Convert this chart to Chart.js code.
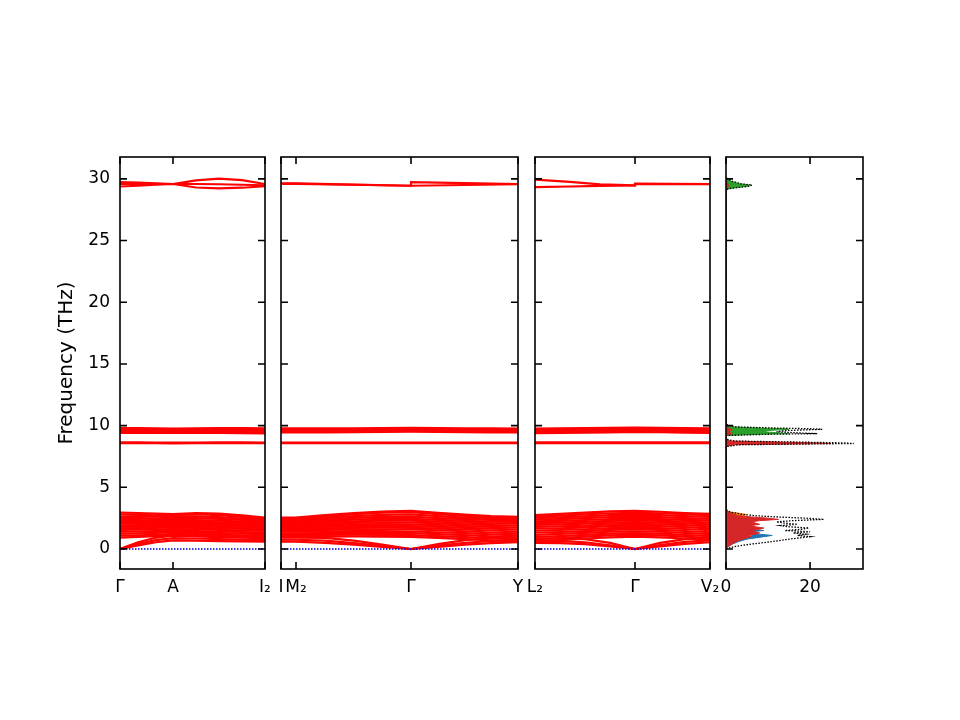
<!DOCTYPE html>
<html>
<head>
<meta charset="utf-8">
<script src="https://cdn.jsdelivr.net/npm/chart.js@4.4.0/dist/chart.umd.min.js"></script>
<style>
  body { margin: 0; background: #fff; }
  #wrap { position: relative; width: 960px; height: 720px; }
  #wrap canvas { position: absolute; left: 0; top: 0; }
</style>
</head>
<body>
<div id="wrap">
  <canvas id="p1" width="960" height="720"></canvas>
  <canvas id="p2" width="960" height="720"></canvas>
  <canvas id="p3" width="960" height="720"></canvas>
  <canvas id="p4" width="960" height="720"></canvas>
</div>
<script>
// frequency axis shared by all panels (THz)
const freqMin = -1.62;
const freqMax = 31.77;
const freqTicks = [0, 5, 10, 15, 20, 25, 30];

// panel 1: Γ - A - I2
const k1 = [0, 0.18, 0.36, 0.53, 0.76, 0.99, 1.22, 1.45];
const k1Sym = [0, 0.53, 1.45];
const k1Labels = ['Γ', 'A', 'I₂'];
const bands1 = [
  [0, 0.30, 0.55, 0.70, 0.68, 0.64, 0.62, 0.60],
  [0, 0.42, 0.72, 0.88, 0.85, 0.80, 0.76, 0.72],
  [0, 0.55, 0.92, 1.08, 1.02, 0.96, 0.92, 0.88],
  [0.92, 0.98, 1.05, 1.12, 1.08, 1.02, 0.98, 0.95],
  [1.08, 1.10, 1.15, 1.22, 1.20, 1.15, 1.10, 1.06],
  [1.25, 1.26, 1.30, 1.36, 1.33, 1.28, 1.24, 1.20],
  [1.40, 1.42, 1.45, 1.48, 1.46, 1.42, 1.38, 1.33],
  [1.55, 1.56, 1.58, 1.62, 1.60, 1.55, 1.50, 1.46],
  [1.68, 1.70, 1.72, 1.75, 1.72, 1.68, 1.63, 1.58],
  [1.80, 1.82, 1.85, 1.88, 1.85, 1.80, 1.75, 1.70],
  [1.92, 1.94, 1.97, 2.00, 1.98, 1.93, 1.87, 1.82],
  [2.05, 2.07, 2.10, 2.12, 2.10, 2.05, 1.98, 1.93],
  [2.18, 2.20, 2.22, 2.25, 2.22, 2.17, 2.10, 2.04],
  [2.30, 2.32, 2.35, 2.38, 2.35, 2.30, 2.22, 2.15],
  [2.44, 2.45, 2.48, 2.52, 2.50, 2.44, 2.35, 2.26],
  [2.58, 2.60, 2.62, 2.66, 2.65, 2.58, 2.47, 2.36],
  [2.78, 2.76, 2.72, 2.78, 2.82, 2.74, 2.60, 2.46],
  [2.95, 2.92, 2.86, 2.82, 2.92, 2.86, 2.72, 2.55],
  [9.80, 9.80, 9.78, 9.76, 9.78, 9.80, 9.79, 9.78],
  [9.72, 9.72, 9.70, 9.70, 9.72, 9.73, 9.72, 9.70],
  [9.62, 9.60, 9.60, 9.62, 9.64, 9.63, 9.60, 9.58],
  [9.50, 9.50, 9.52, 9.55, 9.53, 9.50, 9.48, 9.46],
  [9.40, 9.40, 9.42, 9.44, 9.42, 9.40, 9.38, 9.36],
  [8.64, 8.64, 8.63, 8.62, 8.63, 8.64, 8.64, 8.63],
  [8.58, 8.58, 8.57, 8.56, 8.57, 8.58, 8.58, 8.57],
  [29.74, 29.70, 29.64, 29.58, 29.88, 30.02, 29.90, 29.58],
  [29.58, 29.58, 29.58, 29.58, 29.30, 29.22, 29.28, 29.40],
  [29.38, 29.44, 29.52, 29.58, 29.58, 29.56, 29.52, 29.48]
];

// panel 2: I - M2 - Γ - Y
const k2 = [0, 0.15, 0.44, 0.73, 1.01, 1.30, 1.57, 1.84, 2.10, 2.37];
const k2Sym = [0, 0.15, 1.30, 2.37];
const k2Labels = ['I', 'M₂', 'Γ', 'Y'];
const bands2 = [
  [0.60, 0.60, 0.50, 0.35, 0.18, 0, 0.18, 0.35, 0.48, 0.55],
  [0.75, 0.75, 0.68, 0.48, 0.25, 0, 0.28, 0.50, 0.65, 0.72],
  [0.92, 0.92, 0.90, 0.68, 0.36, 0, 0.40, 0.72, 0.88, 0.92],
  [0.98, 0.98, 1.00, 1.02, 1.00, 0.98, 0.90, 0.80, 0.70, 0.62],
  [1.12, 1.12, 1.14, 1.16, 1.15, 1.12, 1.05, 0.96, 0.86, 0.78],
  [1.26, 1.26, 1.28, 1.30, 1.30, 1.28, 1.20, 1.12, 1.02, 0.95],
  [1.40, 1.40, 1.42, 1.45, 1.45, 1.42, 1.36, 1.28, 1.18, 1.10],
  [1.53, 1.53, 1.55, 1.58, 1.60, 1.58, 1.52, 1.44, 1.34, 1.26],
  [1.66, 1.66, 1.68, 1.72, 1.74, 1.72, 1.66, 1.58, 1.50, 1.42],
  [1.78, 1.78, 1.80, 1.85, 1.88, 1.86, 1.80, 1.72, 1.65, 1.58],
  [1.90, 1.90, 1.93, 1.98, 2.02, 2.00, 1.94, 1.86, 1.80, 1.74],
  [2.02, 2.02, 2.06, 2.12, 2.16, 2.15, 2.08, 2.00, 1.94, 1.90],
  [2.14, 2.14, 2.18, 2.25, 2.30, 2.30, 2.22, 2.14, 2.08, 2.05],
  [2.25, 2.25, 2.30, 2.38, 2.45, 2.45, 2.36, 2.28, 2.22, 2.20],
  [2.36, 2.36, 2.42, 2.52, 2.60, 2.62, 2.50, 2.42, 2.36, 2.34],
  [2.45, 2.45, 2.54, 2.66, 2.76, 2.80, 2.66, 2.55, 2.48, 2.46],
  [2.50, 2.50, 2.65, 2.82, 2.94, 2.98, 2.82, 2.68, 2.58, 2.54],
  [2.55, 2.55, 2.74, 2.92, 3.04, 3.10, 2.94, 2.78, 2.66, 2.60],
  [9.78, 9.78, 9.77, 9.78, 9.80, 9.82, 9.80, 9.78, 9.77, 9.76],
  [9.72, 9.72, 9.71, 9.72, 9.74, 9.76, 9.74, 9.72, 9.71, 9.70],
  [9.64, 9.64, 9.63, 9.64, 9.66, 9.68, 9.66, 9.64, 9.63, 9.62],
  [9.55, 9.55, 9.55, 9.56, 9.58, 9.60, 9.58, 9.56, 9.55, 9.54],
  [9.45, 9.45, 9.46, 9.48, 9.50, 9.52, 9.50, 9.48, 9.46, 9.45],
  [8.63, 8.63, 8.63, 8.63, 8.63, 8.63, 8.63, 8.63, 8.63, 8.63],
  [8.58, 8.58, 8.58, 8.58, 8.58, 8.58, 8.58, 8.58, 8.58, 8.58]
];
// top bands jump at Γ, so they get their own k list with Γ twice
const k2High = [0, 0.15, 0.73, 1.30, 1.30, 1.84, 2.37];
const bands2High = [
  [29.64, 29.63, 29.53, 29.44, 29.44, 29.50, 29.56],
  [29.60, 29.60, 29.52, 29.44, 29.73, 29.66, 29.58]
];

// panel 3: L2 - Γ - V2
const k3 = [0, 0.25, 0.50, 0.75, 1.00, 1.25, 1.50, 1.75];
const k3Sym = [0, 1.00, 1.75];
const k3Labels = ['L₂', 'Γ', 'V₂'];
const bands3 = [
  [0.50, 0.48, 0.40, 0.22, 0, 0.22, 0.42, 0.55],
  [0.66, 0.64, 0.55, 0.30, 0, 0.32, 0.58, 0.70],
  [0.85, 0.84, 0.80, 0.50, 0, 0.50, 0.80, 0.88],
  [0.62, 0.72, 0.85, 0.95, 1.00, 0.95, 0.85, 0.72],
  [0.80, 0.88, 1.00, 1.10, 1.14, 1.10, 1.00, 0.88],
  [0.98, 1.05, 1.15, 1.25, 1.28, 1.25, 1.15, 1.04],
  [1.15, 1.22, 1.30, 1.40, 1.42, 1.40, 1.30, 1.20],
  [1.32, 1.38, 1.45, 1.55, 1.58, 1.55, 1.46, 1.36],
  [1.48, 1.54, 1.60, 1.70, 1.73, 1.70, 1.62, 1.52],
  [1.64, 1.68, 1.75, 1.85, 1.88, 1.85, 1.78, 1.68],
  [1.80, 1.84, 1.90, 2.00, 2.03, 2.00, 1.94, 1.84],
  [1.95, 2.00, 2.05, 2.14, 2.18, 2.14, 2.08, 2.00],
  [2.10, 2.14, 2.20, 2.28, 2.32, 2.28, 2.22, 2.15],
  [2.24, 2.28, 2.35, 2.43, 2.47, 2.43, 2.36, 2.30],
  [2.38, 2.42, 2.50, 2.58, 2.62, 2.58, 2.50, 2.45],
  [2.50, 2.56, 2.65, 2.74, 2.78, 2.74, 2.66, 2.60],
  [2.62, 2.70, 2.80, 2.90, 2.94, 2.90, 2.82, 2.74],
  [2.75, 2.85, 2.95, 3.05, 3.10, 3.02, 2.92, 2.85],
  [9.76, 9.78, 9.80, 9.82, 9.84, 9.82, 9.80, 9.78],
  [9.70, 9.71, 9.72, 9.74, 9.76, 9.74, 9.72, 9.70],
  [9.62, 9.62, 9.63, 9.65, 9.68, 9.66, 9.64, 9.62],
  [9.50, 9.51, 9.53, 9.56, 9.58, 9.56, 9.54, 9.52],
  [9.38, 9.40, 9.43, 9.46, 9.50, 9.47, 9.44, 9.42],
  [8.64, 8.64, 8.64, 8.64, 8.64, 8.64, 8.64, 8.64],
  [8.58, 8.58, 8.58, 8.58, 8.58, 8.58, 8.58, 8.58]
];
const k3High = [0, 0.35, 0.65, 1.00, 1.00, 1.75];
const bands3High = [
  [29.93, 29.75, 29.55, 29.48, 29.62, 29.58],
  [29.33, 29.38, 29.43, 29.46, 29.58, 29.56]
];

// panel 4: phonon DOS (total + projected)
const dosMax = 32.6;
const dosTicks = [0, 20];
const dosLabels = ['0', '20'];
const dosFreq = [
  0.0, 0.2, 0.4, 0.6, 0.8, 1.0, 1.1, 1.2, 1.3, 1.4, 1.5, 1.6, 1.7, 1.8, 1.9, 2.0, 2.1, 2.2, 2.3, 2.4, 2.5, 2.6, 2.7, 2.8, 2.9, 3.0, 3.1, 3.3,
  8.3, 8.45, 8.55, 8.6, 8.65, 8.75, 8.9, 9.2, 9.3, 9.35, 9.4, 9.5, 9.6, 9.7, 9.75, 9.8, 9.9, 10.1,
  29.0, 29.2, 29.3, 29.4, 29.5, 29.6, 29.7, 29.8, 29.9, 30.0, 30.1
];
const dosTotal = [
  0, 2, 6, 11, 15, 20, 17, 19, 16, 20, 14, 18, 19.7, 15, 13, 17, 14, 12, 16, 23.3, 19, 12, 7, 4, 2.5, 1, 0.3, 0,
  0, 3, 30.4, 28, 20, 2, 0, 0, 10, 21.7, 18, 12, 14, 22.9, 20, 12, 2, 0,
  0, 0.5, 3, 5.5, 6.2, 3.5, 2.5, 1.5, 1, 0.5, 0
];
const dosBlue = [
  0, 0.5, 1.5, 3, 5, 9, 11, 8, 5, 6, 9, 5, 4, 3, 3, 2.5, 2, 3, 3, 4, 3, 2.5, 3, 4, 2, 0.5, 0, 0,
  0, 0.3, 0.8, 0.8, 0.5, 0, 0, 0, 0.3, 0.5, 0.4, 0.2, 0.2, 0.3, 0.3, 0.2, 0, 0,
  0, 0, 0, 0, 0, 0, 0, 0, 0, 0, 0
];
const dosOrange = [
  0, 0.3, 1, 2, 3.5, 5, 6, 5.5, 4, 3.5, 4, 3, 4.5, 5, 6, 6.5, 5, 4, 3, 3.5, 3, 2.5, 4, 5, 3, 1, 0.2, 0,
  0, 0.4, 1.2, 1.2, 0.8, 0, 0, 0, 0.3, 0.5, 0.4, 0.3, 0.3, 0.6, 0.5, 0.3, 0, 0,
  0, 0, 0, 0, 0, 0, 0, 0, 0, 0, 0
];
const dosGreen = [
  0, 0, 0, 0, 0.3, 0.5, 0.5, 0.5, 0.8, 1, 1.2, 0.8, 0.5, 0.5, 0.5, 0.4, 0.3, 0.3, 0.3, 0.5, 0.3, 0.2, 0.2, 0.2, 0.1, 0, 0, 0,
  0, 0, 0.5, 0.5, 0.5, 0, 0, 0, 8, 15, 13, 9, 10, 15, 14, 8, 1, 0,
  0, 0.4, 2.6, 5, 5.6, 3.2, 2.2, 1.3, 0.9, 0.4, 0
];
const dosRed = [
  0, 0.5, 1.5, 2.5, 4, 6, 5, 7, 8, 7, 6, 8, 9, 7, 6, 8, 7, 6, 8, 12.5, 10, 6, 3, 2, 1.5, 0.5, 0, 0,
  0, 2, 25, 22, 15, 1, 0, 0, 1, 1.5, 1, 0.8, 1, 1.5, 1, 0.5, 0, 0,
  0, 0, 0.3, 0.5, 0.6, 0.4, 0.3, 0.2, 0.1, 0, 0
];

const FONT = 'DejaVu Sans';
const TOP = 157, BOTTOM = 569, XAXIS_H = 40;

// frame + inward ticks on all four sides, like matplotlib
const framePlugin = {
  id: 'frame',
  afterDraw(chart, args, o) {
    const {ctx, chartArea: a, scales} = chart;
    ctx.save();
    ctx.strokeStyle = '#000';
    ctx.lineWidth = 1.6;
    ctx.beginPath();
    o.xTicks.forEach(v => {
      const px = scales.x.getPixelForValue(v);
      ctx.moveTo(px, a.bottom); ctx.lineTo(px, a.bottom - 7);
      ctx.moveTo(px, a.top); ctx.lineTo(px, a.top + 7);
    });
    freqTicks.forEach(v => {
      const py = scales.y.getPixelForValue(v);
      ctx.moveTo(a.left, py); ctx.lineTo(a.left + 7, py);
      ctx.moveTo(a.right, py); ctx.lineTo(a.right - 7, py);
    });
    ctx.stroke();
    ctx.strokeRect(a.left, a.top, a.right - a.left, a.bottom - a.top);
    ctx.restore();
  }
};

function toPoints(k, vals) {
  return vals.map((f, i) => ({x: k[i], y: f}));
}

function bandLine(k, vals) {
  return {
    data: toPoints(k, vals),
    showLine: true,
    borderColor: '#ff0000',
    borderWidth: 2.2,
    pointRadius: 0,
    fill: false
  };
}

function zeroLine(k) {
  return {
    data: [{x: k[0], y: 0}, {x: k[k.length - 1], y: 0}],
    showLine: true,
    borderColor: '#0000dd',
    borderWidth: 1.6,
    borderDash: [1.5, 1.5],
    pointRadius: 0
  };
}

function makeChart(id, type, datasets, p) {
  const yWidth = p.showY ? 69 : 0;
  return new Chart(document.getElementById(id), {
    type: type,
    data: {datasets: datasets},
    plugins: [framePlugin],
    options: {
      responsive: false,
      animation: false,
      events: [],
      indexAxis: p.indexAxis || 'x',
      layout: {padding: {left: p.left - yWidth, right: 960 - p.right, top: TOP, bottom: 720 - BOTTOM - XAXIS_H}},
      plugins: {
        legend: {display: false},
        tooltip: {enabled: false},
        frame: {xTicks: p.xTicks}
      },
      scales: {
        x: {
          type: 'linear', min: p.xMin, max: p.xMax, bounds: 'data',
          afterBuildTicks: s => { s.ticks = p.xTicks.map(v => ({value: v})); },
          afterFit: s => { s.height = XAXIS_H; },
          grid: {display: false, drawTicks: false},
          border: {display: false},
          ticks: {
            autoSkip: false, maxRotation: 0, minRotation: 0, padding: 8,
            color: '#000', font: {family: FONT, size: 17},
            callback: (v, i) => p.xLabels[i]
          }
        },
        y: {
          type: 'linear', min: freqMin, max: freqMax, bounds: 'data',
          display: p.showY,
          afterBuildTicks: s => { s.ticks = freqTicks.map(v => ({value: v})); },
          afterFit: s => { s.width = yWidth; },
          grid: {display: false, drawTicks: false},
          border: {display: false},
          ticks: {padding: 10, color: '#000', font: {family: FONT, size: 17}},
          title: {display: p.showY, text: 'Frequency (THz)', color: '#000', font: {family: FONT, size: 20}, padding: {top: 4, bottom: 4}}
        }
      }
    }
  });
}

makeChart('p1', 'scatter',
  [zeroLine(k1)].concat(bands1.map(b => bandLine(k1, b))),
  {left: 120, right: 265, xMin: k1[0], xMax: k1[k1.length - 1], xTicks: k1Sym, xLabels: k1Labels, showY: true});

makeChart('p2', 'scatter',
  [zeroLine(k2)].concat(bands2.map(b => bandLine(k2, b)), bands2High.map(b => bandLine(k2High, b))),
  {left: 281, right: 518, xMin: k2[0], xMax: k2[k2.length - 1], xTicks: k2Sym, xLabels: k2Labels, showY: false});

makeChart('p3', 'scatter',
  [zeroLine(k3)].concat(bands3.map(b => bandLine(k3, b)), bands3High.map(b => bandLine(k3High, b))),
  {left: 535, right: 710, xMin: k3[0], xMax: k3[k3.length - 1], xTicks: k3Sym, xLabels: k3Labels, showY: false});

function dosSet(vals, color, filled) {
  return {
    data: vals.map((v, i) => ({x: v, y: dosFreq[i]})),
    borderColor: color,
    backgroundColor: color,
    borderWidth: filled ? 1 : 1.3,
    borderDash: filled ? [] : [1.5, 1.5],
    pointRadius: 0,
    tension: 0,
    fill: filled ? 'origin' : false
  };
}

makeChart('p4', 'line',
  [
    dosSet(dosTotal, '#000000', false),
    dosSet(dosRed, '#d62728', true),
    dosSet(dosGreen, '#2ca02c', true),
    dosSet(dosOrange, '#ff7f0e', true),
    dosSet(dosBlue, '#1f77b4', true)
  ],
  {left: 726, right: 863, xMin: 0, xMax: dosMax, xTicks: dosTicks, xLabels: dosLabels, showY: false, indexAxis: 'y'});
</script>
</body>
</html>
